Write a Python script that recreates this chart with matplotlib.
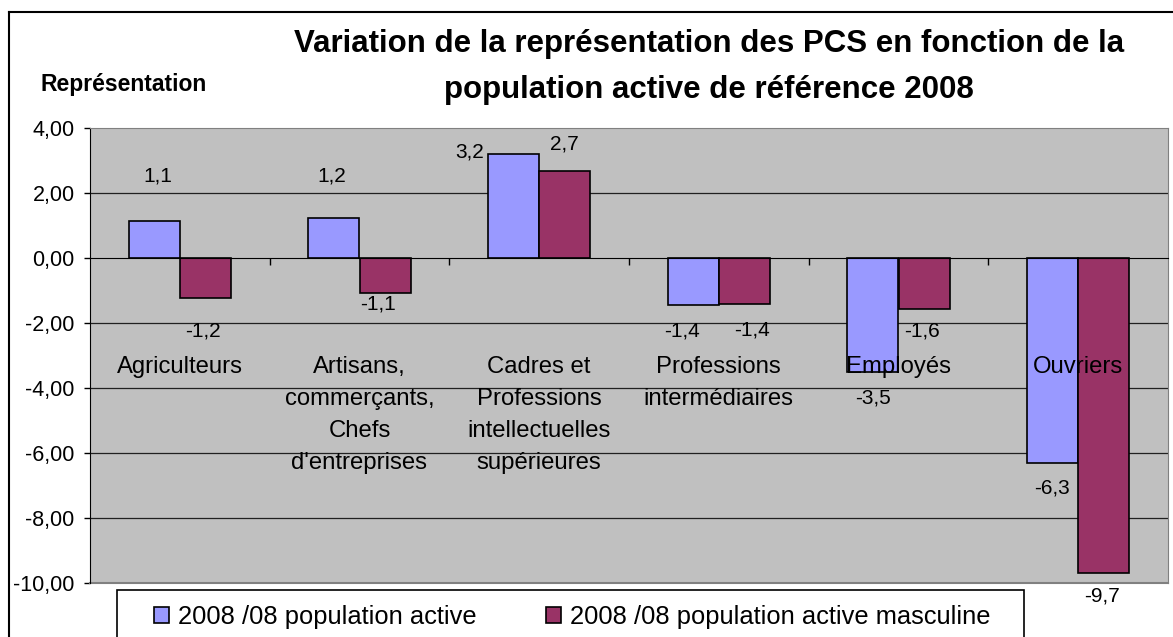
import numpy as np
import matplotlib
matplotlib.use("Agg")
import matplotlib.pyplot as plt
from matplotlib.patches import Rectangle
from matplotlib.lines import Line2D

plt.rcParams["font.family"] = ["Liberation Sans", "DejaVu Sans"]

# Data
categories = [
    "Agriculteurs",
    "Artisans,\ncommerçants,\nChefs\nd'entreprises",
    "Cadres et\nProfessions\nintellectuelles\nsupérieures",
    "Professions\nintermédiaires",
    "Employés",
    "Ouvriers",
]
pop_active = [1.13, 1.23, 3.2, -1.44, -3.52, -6.32]
pop_masculine = [-1.24, -1.09, 2.69, -1.40, -1.57, -9.70]
series_names = ["2008 /08 population active", "2008 /08 population active masculine"]
yticks = [-10, -8, -6, -4, -2, 0, 2, 4]

title = "Variation de la représentation des PCS en fonction de la\npopulation active de référence 2008"
ylabel = "Représentation"

# Styles
BLUE = "#9999FF"
MAROON = "#993366"
PLOT_BG = "#C0C0C0"
W = 0.285

# offsets (pixels) of the value labels from the bar end, as laid out in the original
blue_off = [(4, -45), (-2, -42), (-44, -2), (-11, 26), (0, 26), (-1, 25)]
mar_off = [(-2, 33), (-7, 11), (0, -27), (8, 26), (-2, 22), (-2, 23)]

fig = plt.figure(figsize=(11.73, 6.37), dpi=100)
FW, FH = 1173, 637
ax = fig.add_axes([90 / FW, 1 - 583 / FH, (1168 - 90) / FW, (583 - 128) / FH])
ax.set_facecolor(PLOT_BG)

x = np.arange(len(categories))
b1 = ax.bar(x - W, pop_active, W, align="edge", color=BLUE, edgecolor="black", linewidth=1.2, zorder=3)
b2 = ax.bar(x, pop_masculine, W, align="edge", color=MAROON, edgecolor="black", linewidth=1.2, zorder=3)

ax.set_xlim(-0.5, len(categories) - 0.5)
ax.set_ylim(-10, 4)

# gridlines
for yv in yticks[1:-1]:
    if yv != 0:
        ax.axhline(yv, color="#202020", linewidth=0.9, zorder=1)

# axes: zero line carries the category ticks
ax.spines["bottom"].set_position(("data", 0))
ax.spines["bottom"].set_color("black")
ax.spines["bottom"].set_zorder(4)
ax.spines["left"].set_color("black")
ax.spines["top"].set_color("#808080")
ax.spines["right"].set_color("#808080")
ax.axhline(-10, color="#808080", linewidth=1.5, clip_on=False)
ax.set_xticks(x[:-1] + 0.5)
ax.set_xticklabels([])
ax.tick_params(axis="x", direction="out", length=5, width=1)
ax.set_yticks(yticks)
ax.set_yticklabels(["{:.2f}".format(v).replace(".", ",") for v in yticks], fontsize=15.5)
ax.tick_params(axis="y", direction="out", length=4, width=1, pad=7)

# category labels inside the plot
for i, name in enumerate(categories):
    ax.text(i, -3.02, name, ha="center", va="top", fontsize=17.2, linespacing=1.58, zorder=5)

# value labels
def fmt(v):
    return "{:.1f}".format(v).replace(".", ",")

for bars, vals, offs in [(b1, pop_active, blue_off), (b2, pop_masculine, mar_off)]:
    for rect, v, (dx, dy) in zip(bars, vals, offs):
        ax.annotate(fmt(v), (rect.get_x() + rect.get_width() / 2, v),
                    xytext=(dx, -dy), textcoords="offset pixels",
                    ha="center", va="center", fontsize=15, zorder=6,
                    annotation_clip=False)

# titles
fig.text(709 / FW, 1 - 67 / FH, title, ha="center", va="center",
         fontsize=22.5, fontweight="bold", linespacing=1.72)
fig.text(40 / FW, 1 - 84 / FH, ylabel, ha="left", va="center", fontsize=16.5, fontweight="bold")

# outer frame of the chart
fig.add_artist(Line2D([9 / FW, 9 / FW], [0, 1 - 12 / FH], color="black", linewidth=1.5))
fig.add_artist(Line2D([9 / FW, 1], [1 - 12 / FH, 1 - 12 / FH], color="black", linewidth=1.5))

# legend box (cut by the bottom edge, as in the original)
fig.add_artist(Rectangle((117 / FW, -0.05), (1024 - 117) / FW, 0.05 + (637 - 590) / FH,
                         transform=fig.transFigure, facecolor="white", edgecolor="black", linewidth=1.2))
handles = [Rectangle((0, 0), 1, 1, facecolor=BLUE, edgecolor="black", linewidth=1.2),
           Rectangle((0, 0), 1, 1, facecolor=MAROON, edgecolor="black", linewidth=1.2)]
fig.legend(handles, series_names, loc="center left", bbox_to_anchor=(154 / FW, 1 - 617 / FH),
           ncol=2, frameon=False, fontsize=18.4, handlelength=0.6, handleheight=0.6,
           handletextpad=0.35, columnspacing=2.7, borderpad=0, borderaxespad=0)

fig.savefig("out.png", dpi=100)
